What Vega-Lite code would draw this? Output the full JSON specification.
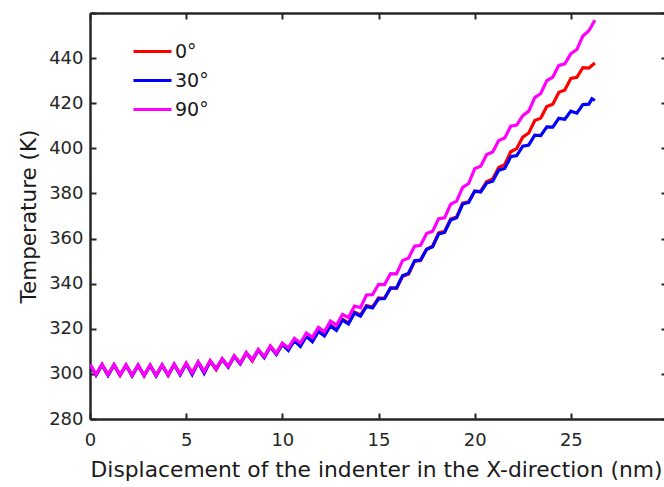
{
  "$schema": "https://vega.github.io/schema/vega-lite/v6.json",
  "autosize": {"type": "none"},
  "padding": {"left": 90, "top": 13, "right": 0, "bottom": 68},
  "width": 577,
  "height": 406,
  "background": "white",
  "config": {
    "view": {"stroke": null},
    "font": "DejaVu Sans",
    "axis": {
      "grid": false,
      "domainColor": "#262626",
      "domainWidth": 2.5,
      "tickColor": "#262626",
      "tickWidth": 2,
      "tickSize": -6,
      "labelFlush": false,
      "labelColor": "#262626",
      "labelFont": "DejaVu Sans",
      "labelFontSize": 18,
      "titleFont": "DejaVu Sans",
      "titleFontSize": 21.5,
      "titleFontWeight": "normal",
      "titleColor": "#1a1a1a"
    },
    "legend": {
      "labelFont": "DejaVu Sans",
      "labelFontSize": 19,
      "labelColor": "#1a1a1a",
      "padding": 0
    }
  },
  "data": {
    "values": [
      {"x":0,"y":304.1,"s":"0°"},{"x":0.3125,"y":299.5,"s":"0°"},{"x":0.625,"y":304.1,"s":"0°"},{"x":0.9375,"y":299.5,"s":"0°"},{"x":1.25,"y":304.0,"s":"0°"},{"x":1.5625,"y":299.4,"s":"0°"},{"x":1.875,"y":303.9,"s":"0°"},{"x":2.1875,"y":299.3,"s":"0°"},{"x":2.5,"y":303.8,"s":"0°"},{"x":2.8125,"y":299.2,"s":"0°"},{"x":3.125,"y":303.8,"s":"0°"},{"x":3.4375,"y":299.3,"s":"0°"},{"x":3.75,"y":303.9,"s":"0°"},{"x":4.0625,"y":299.4,"s":"0°"},{"x":4.375,"y":304.2,"s":"0°"},{"x":4.6875,"y":299.8,"s":"0°"},{"x":5,"y":304.6,"s":"0°"},{"x":5.3125,"y":300.3,"s":"0°"},{"x":5.625,"y":305.2,"s":"0°"},{"x":5.9375,"y":300.9,"s":"0°"},{"x":6.25,"y":305.7,"s":"0°"},{"x":6.5625,"y":301.8,"s":"0°"},{"x":6.875,"y":306.6,"s":"0°"},{"x":7.1875,"y":303.2,"s":"0°"},{"x":7.5,"y":307.9,"s":"0°"},{"x":7.8125,"y":304.6,"s":"0°"},{"x":8.125,"y":309.3,"s":"0°"},{"x":8.4375,"y":305.7,"s":"0°"},{"x":8.75,"y":310.7,"s":"0°"},{"x":9.0625,"y":307.5,"s":"0°"},{"x":9.375,"y":312.2,"s":"0°"},{"x":9.6875,"y":309.0,"s":"0°"},{"x":10,"y":313.4,"s":"0°"},{"x":10.3125,"y":311.1,"s":"0°"},{"x":10.625,"y":315.2,"s":"0°"},{"x":10.9375,"y":312.9,"s":"0°"},{"x":11.25,"y":317.1,"s":"0°"},{"x":11.5625,"y":315.0,"s":"0°"},{"x":11.875,"y":319.2,"s":"0°"},{"x":12.1875,"y":317.2,"s":"0°"},{"x":12.5,"y":321.6,"s":"0°"},{"x":12.8125,"y":319.7,"s":"0°"},{"x":13.125,"y":324.2,"s":"0°"},{"x":13.4375,"y":322.6,"s":"0°"},{"x":13.75,"y":327.4,"s":"0°"},{"x":14.0625,"y":326.1,"s":"0°"},{"x":14.375,"y":330.3,"s":"0°"},{"x":14.6875,"y":329.6,"s":"0°"},{"x":15,"y":333.7,"s":"0°"},{"x":15.3125,"y":333.5,"s":"0°"},{"x":15.625,"y":338.1,"s":"0°"},{"x":15.9375,"y":337.9,"s":"0°"},{"x":16.25,"y":343.3,"s":"0°"},{"x":16.5625,"y":344.2,"s":"0°"},{"x":16.875,"y":349.9,"s":"0°"},{"x":17.1875,"y":350.3,"s":"0°"},{"x":17.5,"y":355.2,"s":"0°"},{"x":17.8125,"y":356.6,"s":"0°"},{"x":18.125,"y":362.5,"s":"0°"},{"x":18.4375,"y":363.2,"s":"0°"},{"x":18.75,"y":368.7,"s":"0°"},{"x":19.0625,"y":369.6,"s":"0°"},{"x":19.375,"y":375.7,"s":"0°"},{"x":19.6875,"y":376.3,"s":"0°"},{"x":20,"y":381.0,"s":"0°"},{"x":20.3125,"y":380.9,"s":"0°"},{"x":20.625,"y":385.3,"s":"0°"},{"x":20.9375,"y":386.4,"s":"0°"},{"x":21.25,"y":391.5,"s":"0°"},{"x":21.5625,"y":392.8,"s":"0°"},{"x":21.875,"y":398.5,"s":"0°"},{"x":22.1875,"y":399.9,"s":"0°"},{"x":22.5,"y":405.0,"s":"0°"},{"x":22.8125,"y":406.8,"s":"0°"},{"x":23.125,"y":412.3,"s":"0°"},{"x":23.4375,"y":413.4,"s":"0°"},{"x":23.75,"y":418.5,"s":"0°"},{"x":24.0625,"y":419.6,"s":"0°"},{"x":24.375,"y":424.8,"s":"0°"},{"x":24.6875,"y":425.9,"s":"0°"},{"x":25,"y":431.0,"s":"0°"},{"x":25.3125,"y":431.5,"s":"0°"},{"x":25.625,"y":435.8,"s":"0°"},{"x":25.9375,"y":435.6,"s":"0°"},{"x":26.25,"y":437.8,"s":"0°"},
      {"x":0,"y":304.0,"s":"30°"},{"x":0.3125,"y":299.6,"s":"30°"},{"x":0.625,"y":304.1,"s":"30°"},{"x":0.9375,"y":299.4,"s":"30°"},{"x":1.25,"y":304.0,"s":"30°"},{"x":1.5625,"y":299.5,"s":"30°"},{"x":1.875,"y":303.8,"s":"30°"},{"x":2.1875,"y":299.2,"s":"30°"},{"x":2.5,"y":303.8,"s":"30°"},{"x":2.8125,"y":299.3,"s":"30°"},{"x":3.125,"y":303.7,"s":"30°"},{"x":3.4375,"y":299.2,"s":"30°"},{"x":3.75,"y":303.9,"s":"30°"},{"x":4.0625,"y":299.5,"s":"30°"},{"x":4.375,"y":304.1,"s":"30°"},{"x":4.6875,"y":299.6,"s":"30°"},{"x":5,"y":304.5,"s":"30°"},{"x":5.3125,"y":299.7,"s":"30°"},{"x":5.625,"y":305.1,"s":"30°"},{"x":5.9375,"y":300.3,"s":"30°"},{"x":6.25,"y":305.6,"s":"30°"},{"x":6.5625,"y":302.3,"s":"30°"},{"x":6.875,"y":306.5,"s":"30°"},{"x":7.1875,"y":303.0,"s":"30°"},{"x":7.5,"y":307.8,"s":"30°"},{"x":7.8125,"y":304.4,"s":"30°"},{"x":8.125,"y":309.2,"s":"30°"},{"x":8.4375,"y":306.2,"s":"30°"},{"x":8.75,"y":310.5,"s":"30°"},{"x":9.0625,"y":307.2,"s":"30°"},{"x":9.375,"y":312.0,"s":"30°"},{"x":9.6875,"y":308.6,"s":"30°"},{"x":10,"y":313.1,"s":"30°"},{"x":10.3125,"y":310.4,"s":"30°"},{"x":10.625,"y":314.8,"s":"30°"},{"x":10.9375,"y":312.2,"s":"30°"},{"x":11.25,"y":316.7,"s":"30°"},{"x":11.5625,"y":314.3,"s":"30°"},{"x":11.875,"y":318.8,"s":"30°"},{"x":12.1875,"y":316.8,"s":"30°"},{"x":12.5,"y":321.3,"s":"30°"},{"x":12.8125,"y":319.3,"s":"30°"},{"x":13.125,"y":323.9,"s":"30°"},{"x":13.4375,"y":322.1,"s":"30°"},{"x":13.75,"y":327.0,"s":"30°"},{"x":14.0625,"y":325.6,"s":"30°"},{"x":14.375,"y":329.9,"s":"30°"},{"x":14.6875,"y":329.2,"s":"30°"},{"x":15,"y":333.3,"s":"30°"},{"x":15.3125,"y":333.4,"s":"30°"},{"x":15.625,"y":338.0,"s":"30°"},{"x":15.9375,"y":338.1,"s":"30°"},{"x":16.25,"y":343.5,"s":"30°"},{"x":16.5625,"y":344.6,"s":"30°"},{"x":16.875,"y":350.2,"s":"30°"},{"x":17.1875,"y":350.5,"s":"30°"},{"x":17.5,"y":355.3,"s":"30°"},{"x":17.8125,"y":356.4,"s":"30°"},{"x":18.125,"y":362.0,"s":"30°"},{"x":18.4375,"y":362.7,"s":"30°"},{"x":18.75,"y":368.2,"s":"30°"},{"x":19.0625,"y":369.2,"s":"30°"},{"x":19.375,"y":375.3,"s":"30°"},{"x":19.6875,"y":376.0,"s":"30°"},{"x":20,"y":381.0,"s":"30°"},{"x":20.3125,"y":380.6,"s":"30°"},{"x":20.625,"y":384.6,"s":"30°"},{"x":20.9375,"y":385.4,"s":"30°"},{"x":21.25,"y":390.3,"s":"30°"},{"x":21.5625,"y":391.1,"s":"30°"},{"x":21.875,"y":396.3,"s":"30°"},{"x":22.1875,"y":396.8,"s":"30°"},{"x":22.5,"y":401.0,"s":"30°"},{"x":22.8125,"y":401.5,"s":"30°"},{"x":23.125,"y":405.8,"s":"30°"},{"x":23.4375,"y":405.6,"s":"30°"},{"x":23.75,"y":409.5,"s":"30°"},{"x":24.0625,"y":409.4,"s":"30°"},{"x":24.375,"y":413.3,"s":"30°"},{"x":24.6875,"y":412.9,"s":"30°"},{"x":25,"y":416.5,"s":"30°"},{"x":25.3125,"y":415.6,"s":"30°"},{"x":25.625,"y":419.4,"s":"30°"},{"x":25.9375,"y":419.6,"s":"30°"},{"x":26.1,"y":422.0,"s":"30°"},{"x":26.25,"y":421.2,"s":"30°"},
      {"x":0,"y":304.3,"s":"90°"},{"x":0.3125,"y":299.7,"s":"90°"},{"x":0.625,"y":304.2,"s":"90°"},{"x":0.9375,"y":299.6,"s":"90°"},{"x":1.25,"y":304.1,"s":"90°"},{"x":1.5625,"y":299.5,"s":"90°"},{"x":1.875,"y":304.0,"s":"90°"},{"x":2.1875,"y":299.4,"s":"90°"},{"x":2.5,"y":303.9,"s":"90°"},{"x":2.8125,"y":299.3,"s":"90°"},{"x":3.125,"y":303.9,"s":"90°"},{"x":3.4375,"y":299.4,"s":"90°"},{"x":3.75,"y":304.0,"s":"90°"},{"x":4.0625,"y":299.5,"s":"90°"},{"x":4.375,"y":304.3,"s":"90°"},{"x":4.6875,"y":299.9,"s":"90°"},{"x":5,"y":304.7,"s":"90°"},{"x":5.3125,"y":300.4,"s":"90°"},{"x":5.625,"y":305.3,"s":"90°"},{"x":5.9375,"y":301.0,"s":"90°"},{"x":6.25,"y":305.8,"s":"90°"},{"x":6.5625,"y":302.2,"s":"90°"},{"x":6.875,"y":306.7,"s":"90°"},{"x":7.1875,"y":303.3,"s":"90°"},{"x":7.5,"y":308.0,"s":"90°"},{"x":7.8125,"y":304.7,"s":"90°"},{"x":8.125,"y":309.4,"s":"90°"},{"x":8.4375,"y":306.1,"s":"90°"},{"x":8.75,"y":310.8,"s":"90°"},{"x":9.0625,"y":307.6,"s":"90°"},{"x":9.375,"y":312.3,"s":"90°"},{"x":9.6875,"y":309.1,"s":"90°"},{"x":10,"y":313.6,"s":"90°"},{"x":10.3125,"y":311.5,"s":"90°"},{"x":10.625,"y":315.8,"s":"90°"},{"x":10.9375,"y":313.7,"s":"90°"},{"x":11.25,"y":318.1,"s":"90°"},{"x":11.5625,"y":316.2,"s":"90°"},{"x":11.875,"y":320.6,"s":"90°"},{"x":12.1875,"y":318.7,"s":"90°"},{"x":12.5,"y":323.4,"s":"90°"},{"x":12.8125,"y":321.6,"s":"90°"},{"x":13.125,"y":326.4,"s":"90°"},{"x":13.4375,"y":325.0,"s":"90°"},{"x":13.75,"y":330.1,"s":"90°"},{"x":14.0625,"y":329.4,"s":"90°"},{"x":14.375,"y":335.0,"s":"90°"},{"x":14.6875,"y":335.1,"s":"90°"},{"x":15,"y":339.7,"s":"90°"},{"x":15.3125,"y":339.6,"s":"90°"},{"x":15.625,"y":344.4,"s":"90°"},{"x":15.9375,"y":344.3,"s":"90°"},{"x":16.25,"y":350.2,"s":"90°"},{"x":16.5625,"y":351.4,"s":"90°"},{"x":16.875,"y":356.6,"s":"90°"},{"x":17.1875,"y":357.0,"s":"90°"},{"x":17.5,"y":362.2,"s":"90°"},{"x":17.8125,"y":363.2,"s":"90°"},{"x":18.125,"y":368.8,"s":"90°"},{"x":18.4375,"y":369.2,"s":"90°"},{"x":18.75,"y":375.2,"s":"90°"},{"x":19.0625,"y":376.6,"s":"90°"},{"x":19.375,"y":382.7,"s":"90°"},{"x":19.6875,"y":384.4,"s":"90°"},{"x":20,"y":391.0,"s":"90°"},{"x":20.3125,"y":392.1,"s":"90°"},{"x":20.625,"y":397.3,"s":"90°"},{"x":20.9375,"y":398.4,"s":"90°"},{"x":21.25,"y":403.5,"s":"90°"},{"x":21.5625,"y":404.6,"s":"90°"},{"x":21.875,"y":409.8,"s":"90°"},{"x":22.1875,"y":410.3,"s":"90°"},{"x":22.5,"y":414.5,"s":"90°"},{"x":22.8125,"y":416.5,"s":"90°"},{"x":23.125,"y":422.5,"s":"90°"},{"x":23.4375,"y":424.3,"s":"90°"},{"x":23.75,"y":430.0,"s":"90°"},{"x":24.0625,"y":431.6,"s":"90°"},{"x":24.375,"y":436.8,"s":"90°"},{"x":24.6875,"y":437.5,"s":"90°"},{"x":25,"y":442.0,"s":"90°"},{"x":25.3125,"y":443.8,"s":"90°"},{"x":25.625,"y":449.8,"s":"90°"},{"x":25.9375,"y":452.1,"s":"90°"},{"x":26.25,"y":456.8,"s":"90°"}
    ]
  },
  "layer": [
    {
      "mark": {"type": "line", "strokeWidth": 3.2, "clip": true},
      "encoding": {
        "x": {
          "field": "x", "type": "quantitative",
          "scale": {"domain": [0, 30], "nice": false, "zero": false},
          "axis": {"orient": "bottom", "values": [0, 5, 10, 15, 20, 25, 30], "labelExpr": "datum.value == 30 ? '' : datum.label", "labelPadding": 18, "title": "Displacement of the indenter in the X-direction (nm)", "titlePadding": 10, "titleX": 286, "titleFontSize": 21.8}
        },
        "y": {
          "field": "y", "type": "quantitative",
          "scale": {"domain": [280, 460], "nice": false, "zero": false},
          "axis": {"orient": "left", "values": [280, 300, 320, 340, 360, 380, 400, 420, 440, 460], "labelExpr": "datum.value == 460 ? '' : datum.label", "labelPadding": 13, "title": "Temperature (K)", "titlePadding": 8}
        },
        "color": {
          "field": "s", "type": "nominal",
          "scale": {"domain": ["0°", "30°", "90°"], "range": ["#FF0000", "#0000FF", "#FF00FF"]},
          "legend": {"orient": "none", "legendX": 42, "legendY": 24, "title": null, "symbolType": "stroke", "symbolSize": 1444, "symbolStrokeWidth": 3, "labelOffset": 2, "rowPadding": 0, "symbolLimit": 0, "clipHeight": 29}
        }
      }
    },
    {
      "mark": {"type": "line", "strokeOpacity": 0},
      "encoding": {
        "x": {
          "field": "x", "type": "quantitative",
          "axis": {"orient": "top", "values": [0, 5, 10, 15, 20, 25, 30], "labels": false, "title": null}
        },
        "y": {
          "field": "y", "type": "quantitative",
          "axis": {"orient": "right", "values": [280, 300, 320, 340, 360, 380, 400, 420, 440, 460], "labels": false, "title": null}
        }
      }
    }
  ],
  "resolve": {"axis": {"x": "independent", "y": "independent"}}
}
